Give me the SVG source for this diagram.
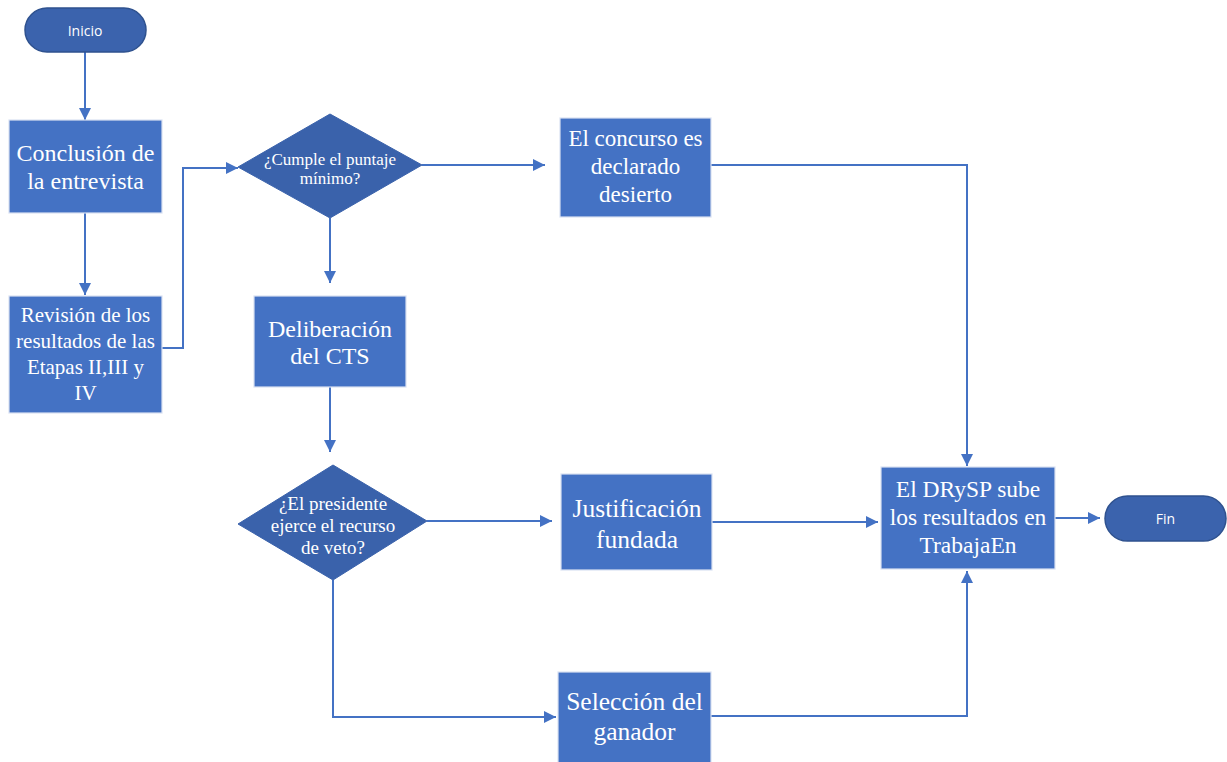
<svg xmlns="http://www.w3.org/2000/svg" width="1227" height="762" viewBox="0 0 1227 762">
  <style>
    .box { fill: #4472C4; stroke: #D9E1F2; stroke-width: 1.2; }
    .dia { fill: #3A62AB; stroke: #3A62AB; stroke-width: 1; }
    .term { fill: #3B63AD; stroke: #2F528F; stroke-width: 1.5; }
    .t { font-family: "Liberation Serif", "Times New Roman", serif; fill: #FFFFFF; text-anchor: middle; }
    .ts { font-family: "Open Sans", "Liberation Sans", Arial, sans-serif; fill: #FFFFFF; text-anchor: middle; font-size: 14px; }
    .conn { fill: none; stroke: #4472C4; stroke-width: 2; marker-end: url(#arrow); }
  </style>
  <defs>
    <marker id="arrow" viewBox="0 0 12 12" refX="12" refY="6" markerWidth="12" markerHeight="12" markerUnits="userSpaceOnUse" orient="auto">
      <path d="M0,0 L12,6 L0,12 Z" fill="#4472C4"/>
    </marker>
  </defs>
  <rect width="1227" height="762" fill="#FFFFFF"/>

  <!-- connectors -->
  <g id="connectors">
    <path class="conn" d="M85,52 V120"/>
    <path class="conn" d="M85,213 V295"/>
    <path class="conn" d="M162,348 H183 V168 H238"/>
    <path class="conn" d="M422,165 H545"/>
    <path class="conn" d="M711,165 H967 V466"/>
    <path class="conn" d="M330,218 V283"/>
    <path class="conn" d="M330,387 V452"/>
    <path class="conn" d="M427,521 H552"/>
    <path class="conn" d="M712,522 H878"/>
    <path class="conn" d="M1055,518 H1100"/>
    <path class="conn" d="M333,580 V717 H556"/>
    <path class="conn" d="M711,716 H967 V571"/>
  </g>

  <g id="inicio">
    <rect class="term" x="25" y="8" width="121" height="44" rx="22" ry="22"/>
    <text class="ts" x="85" y="36">Inicio</text>
  </g>

  <g id="conclusion">
    <rect class="box" x="9" y="120" width="153" height="93"/>
    <text class="t" font-size="24" x="85.5" y="161">Conclusión de</text>
    <text class="t" font-size="24" x="85.5" y="189">la entrevista</text>
  </g>

  <g id="revision">
    <rect class="box" x="9" y="296" width="153" height="117"/>
    <text class="t" font-size="21" x="85.5" y="322">Revisión de los</text>
    <text class="t" font-size="21" x="85.5" y="348">resultados de las</text>
    <text class="t" font-size="21" x="85.5" y="374">Etapas II,III y</text>
    <text class="t" font-size="21" x="85.5" y="400">IV</text>
  </g>

  <g id="cumple">
    <polygon class="dia" points="238,167 330,114 422,165 330,218"/>
    <text class="t" font-size="17" x="330" y="165">¿Cumple el puntaje</text>
    <text class="t" font-size="17" x="330" y="184">mínimo?</text>
  </g>

  <g id="desierto">
    <rect class="box" x="560" y="118" width="151" height="99"/>
    <text class="t" font-size="23" x="635.5" y="146">El concurso es</text>
    <text class="t" font-size="23" x="635.5" y="174">declarado</text>
    <text class="t" font-size="23" x="635.5" y="202">desierto</text>
  </g>

  <g id="deliberacion">
    <rect class="box" x="254" y="296" width="152" height="91"/>
    <text class="t" font-size="24" x="330" y="337">Deliberación</text>
    <text class="t" font-size="24" x="330" y="364">del CTS</text>
  </g>

  <g id="veto">
    <polygon class="dia" points="238,524 333,465 427,521 333,580"/>
    <text class="t" font-size="19" x="333" y="510">¿El presidente</text>
    <text class="t" font-size="19" x="333" y="532">ejerce el recurso</text>
    <text class="t" font-size="19" x="333" y="554">de veto?</text>
  </g>

  <g id="justificacion">
    <rect class="box" x="561" y="474" width="151" height="96"/>
    <text class="t" font-size="25.5" x="637" y="517">Justificación</text>
    <text class="t" font-size="25.5" x="637" y="548">fundada</text>
  </g>

  <g id="seleccion">
    <rect class="box" x="558" y="672" width="153" height="93"/>
    <text class="t" font-size="25.5" x="634.5" y="710">Selección del</text>
    <text class="t" font-size="25.5" x="634.5" y="740">ganador</text>
  </g>

  <g id="drysp">
    <rect class="box" x="881" y="467" width="174" height="102"/>
    <text class="t" font-size="23.5" x="968" y="497">El DRySP sube</text>
    <text class="t" font-size="23.5" x="968" y="525">los resultados en</text>
    <text class="t" font-size="23.5" x="968" y="553">TrabajaEn</text>
  </g>

  <g id="fin">
    <rect class="term" x="1105" y="496" width="121" height="45" rx="22.5" ry="22.5"/>
    <text class="ts" x="1165.5" y="524">Fin</text>
  </g>
</svg>
